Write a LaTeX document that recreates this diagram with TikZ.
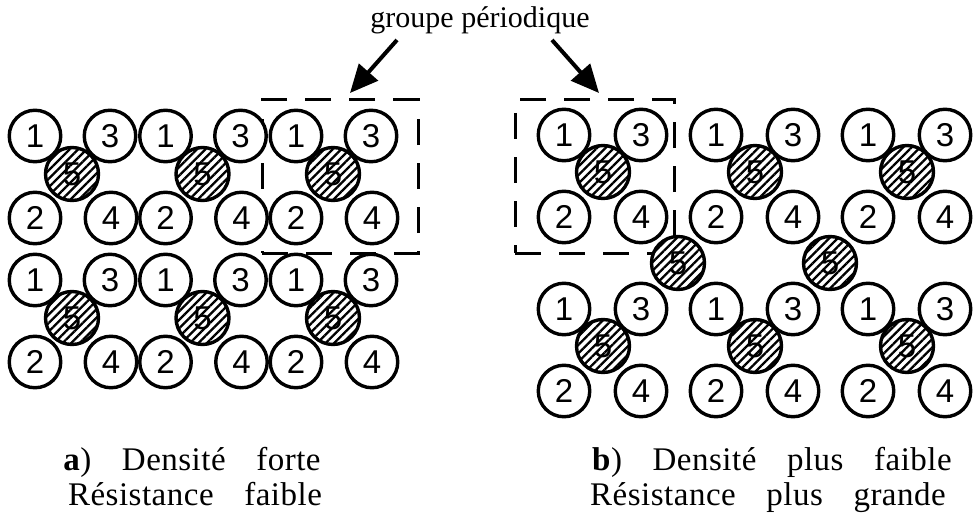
\documentclass[tikz,border=0pt]{standalone}
\usepackage{fontspec}
\setmainfont{Liberation Serif}
\newfontfamily\numfont{Liberation Sans}
\newfontfamily\capfont[LetterSpace=1.5,WordSpace=3.5]{Liberation Serif}
\usetikzlibrary{patterns.meta,arrows.meta}
\begin{document}
\begin{tikzpicture}[x=1pt,y=-1pt,
  atom/.style={circle,draw,line width=3.4pt,fill=white,minimum size=51.5pt,inner sep=0pt,
    font=\numfont\fontsize{33}{33}\selectfont},
  hatom/.style={atom,minimum size=53pt,postaction={pattern={Lines[angle=45,distance=6pt,line width=2.3pt]}}},
  groupbox/.style={draw,line width=3pt,dash pattern=on 26pt off 18pt,inner sep=0pt},
  pointer/.style={line width=4pt,-{Triangle[length=28pt,width=25pt]}},
  caption/.style={anchor=base,inner sep=0pt,font=\capfont\fontsize{33}{33}\selectfont}
]
\useasboundingbox (0,0) rectangle (976,516);

% dashed periodic-group boxes
\node[groupbox,minimum width=156pt,minimum height=153pt] (boxL) at (340,176.5) {};
\node[groupbox,minimum width=159pt,minimum height=153pt] (boxR) at (594.5,176.5) {};

% left panel: dense packing
\foreach \g/\xo in {1/35,2/165.5,3/296}{
  \foreach \b/\yo in {1/0,2/144}{
    \node[atom] (La\b\g-1) at (\xo,136+\yo) {1};
    \node[atom] (La\b\g-3) at (\xo+75,136+\yo) {3};
    \node[atom] (La\b\g-2) at (\xo,218+\yo) {2};
    \node[atom] (La\b\g-4) at (\xo+76,218+\yo) {4};
    \node[hatom] (La\b\g-5) at (\xo+37,174+\yo) {5};
  }
}

% right panel: looser packing
\foreach \g/\xo in {1/564,2/716,3/868}{
  \foreach \b/\yo in {1/0,2/174}{
    \node[atom] (Rb\b\g-1) at (\xo,135+\yo) {1};
    \node[atom] (Rb\b\g-3) at (\xo+77,135+\yo) {3};
    \node[atom] (Rb\b\g-2) at (\xo,217+\yo) {2};
    \node[atom] (Rb\b\g-4) at (\xo+77,217+\yo) {4};
    \node[hatom] (Rb\b\g-5) at (\xo+39,172+\yo) {5};
  }
}
\node[hatom] (Rm1) at (678,263) {5};
\node[hatom] (Rm2) at (830,263) {5};

% label and arrows
\node[inner sep=0pt,font=\fontsize{30}{30}\selectfont] (title) at (480,20) {groupe périodique};
\coordinate (aL0) at (397,40);
\coordinate (aL1) at (350,93);
\coordinate (aR0) at (552,40);
\coordinate (aR1) at (599,93);
\draw[pointer] (aL0) -- (aL1);
\draw[pointer] (aR0) -- (aR1);

% captions
\node[caption] (capA1) at (192,470) {\textbf{a}) Densité forte};
\node[caption] (capA2) at (195,505) {Résistance faible};
\node[caption] (capB1) at (772,470) {\textbf{b}) Densité plus faible};
\node[caption] (capB2) at (768,505) {Résistance plus grande};
\end{tikzpicture}
\end{document}
